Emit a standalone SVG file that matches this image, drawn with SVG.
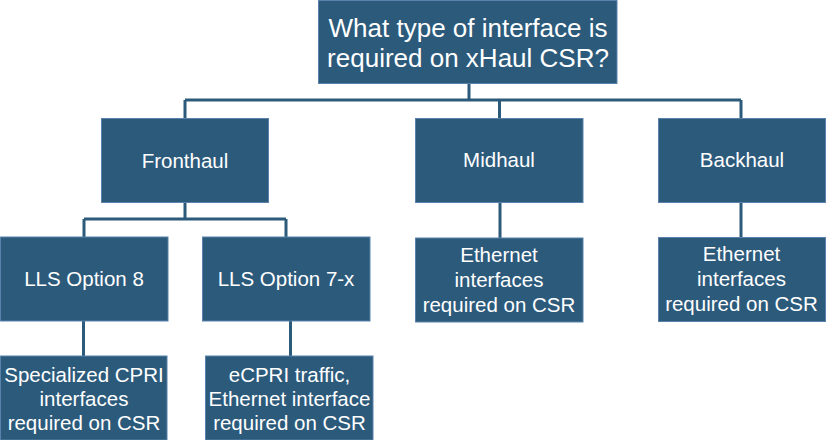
<svg xmlns="http://www.w3.org/2000/svg" width="826" height="440" viewBox="0 0 826 440">
<style>
.box{fill:#2c5a7b;stroke:#5a82ad;stroke-width:1}
.t{font-family:"Liberation Sans",Arial,sans-serif;fill:#ffffff;text-anchor:middle;font-size:20.5px}
.big{font-size:26px}
.c{fill:none;stroke:#2c5a7b;stroke-width:3}
</style>
<rect width="826" height="440" fill="#ffffff"/>
<g id="connectors">
<path class="c" d="M469 83V100M185 100H741M185 100V119M499.5 100V118M741 100V118"/>
<path class="c" d="M185 202V219M84 219H286M84 219V237M286 219V237"/>
<path class="c" d="M83.5 321V356M290.5 321V356M500 202V238M741 202V237"/>
</g>
<g id="root">
<rect class="box" x="318.5" y="0.5" width="298.5" height="83"/>
<text class="t big" x="468" y="37">What type of interface is</text>
<text class="t big" x="468" y="67">required on xHaul CSR?</text>
</g>
<g id="fronthaul">
<rect class="box" x="101.5" y="118.5" width="167" height="84"/>
<text class="t" x="185" y="167.5">Fronthaul</text>
</g>
<g id="midhaul">
<rect class="box" x="415.5" y="118.5" width="167.5" height="84"/>
<text class="t" x="499" y="167">Midhaul</text>
</g>
<g id="backhaul">
<rect class="box" x="658.5" y="118.5" width="167" height="84"/>
<text class="t" x="742" y="167">Backhaul</text>
</g>
<g id="lls8">
<rect class="box" x="0.5" y="237" width="167.5" height="84"/>
<text class="t" x="84" y="285.5">LLS Option 8</text>
</g>
<g id="lls7x">
<rect class="box" x="202.5" y="237" width="167.5" height="84"/>
<text class="t" x="286" y="285.5">LLS Option 7-x</text>
</g>
<g id="cpri">
<rect class="box" x="0.5" y="356" width="166.5" height="84"/>
<text class="t" x="84" y="382">Specialized CPRI</text>
<text class="t" x="84" y="406">interfaces</text>
<text class="t" x="84" y="430">required on CSR</text>
</g>
<g id="ecpri">
<rect class="box" x="205.5" y="356" width="167.5" height="84"/>
<text class="t" x="289.5" y="382">eCPRI traffic,</text>
<text class="t" x="289.5" y="406">Ethernet interface</text>
<text class="t" x="289.5" y="430">required on CSR</text>
</g>
<g id="mid-eth">
<rect class="box" x="415.5" y="238" width="167.5" height="84"/>
<text class="t" x="499" y="262">Ethernet</text>
<text class="t" x="499" y="287">interfaces</text>
<text class="t" x="499" y="312">required on CSR</text>
</g>
<g id="back-eth">
<rect class="box" x="658.5" y="237.5" width="167" height="84"/>
<text class="t" x="741.5" y="260.5">Ethernet</text>
<text class="t" x="741.5" y="285.5">interfaces</text>
<text class="t" x="741.5" y="310.5">required on CSR</text>
</g>
</svg>
